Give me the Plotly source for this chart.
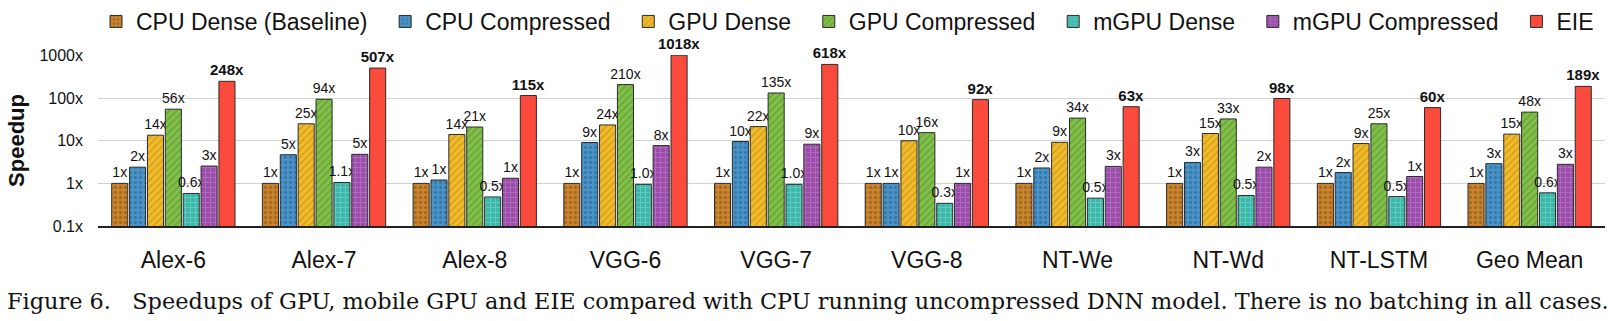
import plotly.graph_objects as go

categories = ["Alex-6", "Alex-7", "Alex-8", "VGG-6", "VGG-7", "VGG-8",
              "NT-We", "NT-Wd", "NT-LSTM", "Geo Mean"]

series_names = ["CPU Dense (Baseline)", "CPU Compressed", "GPU Dense",
                "GPU Compressed", "mGPU Dense", "mGPU Compressed", "EIE"]

cpu_dense = [1.0, 1.0, 1.0, 1.0, 1.0, 1.0, 1.0, 1.0, 1.0, 1.0]
cpu_comp = [2.4, 4.7, 1.2, 9.1, 9.6, 1.0, 2.3, 3.1, 1.8, 2.9]
gpu_dense = [13.5, 25, 14, 23.5, 21.5, 10, 9.2, 14.8, 8.6, 14.3]
gpu_comp = [55, 94, 21, 208, 132, 15.5, 34, 32.5, 25, 47]
mgpu_dense = [0.58, 1.05, 0.48, 0.95, 0.95, 0.34, 0.45, 0.52, 0.49, 0.6]
mgpu_comp = [2.55, 4.8, 1.32, 7.7, 8.3, 1.0, 2.5, 2.4, 1.45, 2.8]
eie = [248, 507, 115, 1018, 618, 92, 63, 98, 60, 189]

cpu_dense_lbl = ["1x", "1x", "1x", "1x", "1x", "1x", "1x", "1x", "1x", "1x"]
cpu_comp_lbl = ["2x", "5x", "1x", "9x", "10x", "1x", "2x", "3x", "2x", "3x"]
gpu_dense_lbl = ["14x", "25x", "14x", "24x", "22x", "10x", "9x", "15x", "9x", "15x"]
gpu_comp_lbl = ["56x", "94x", "21x", "210x", "135x", "16x", "34x", "33x", "25x", "48x"]
mgpu_dense_lbl = ["0.6x", "1.1x", "0.5x", "1.0x", "1.0x", "0.3x", "0.5x", "0.5x", "0.5x", "0.6x"]
mgpu_comp_lbl = ["3x", "5x", "1x", "8x", "9x", "1x", "3x", "2x", "1x", "3x"]
eie_lbl = ["248x", "507x", "115x", "1018x", "618x", "92x", "63x", "98x", "60x", "189x"]

y_tickvals = [0.1, 1, 10, 100, 1000]
y_ticktext = ["0.1x", "1x", "10x", "100x", "1000x"]

caption = ("Figure 6.&nbsp;&nbsp;&nbsp;Speedups of GPU, mobile GPU and EIE compared with CPU "
           "running uncompressed DNN model. There is no batching in all cases.")

values = [cpu_dense, cpu_comp, gpu_dense, gpu_comp, mgpu_dense, mgpu_comp, eie]
labels = [cpu_dense_lbl, cpu_comp_lbl, gpu_dense_lbl, gpu_comp_lbl,
          mgpu_dense_lbl, mgpu_comp_lbl, eie_lbl]

colors = ["#C8842F", "#4B93C6", "#F0BC2E", "#82BF4B", "#3DB7A9", "#9A4DA9", "#F94A3C"]
pattern_shapes = [".", ".", "/", "/", "+", "+", ""]
pattern_fg = ["#A0631C", "#2F74A8", "#D39A12", "#63A232", "#67CFC2", "#B572C4", "#F94A3C"]

SANS = "Liberation Sans, Arial, Helvetica, sans-serif"
W, H = 1614, 321
ML, MR, MT, MB = 98, 9, 55, 95
LEGEND_PAD = "\u00a0\u00a0"

fig = go.Figure()
for i, name in enumerate(series_names):
    is_eie = (i == 6)
    fig.add_trace(go.Bar(
        name=name + (LEGEND_PAD if not is_eie else ""),
        x=categories,
        y=values[i],
        text=labels[i],
        textposition="outside",
        constraintext="none",
        cliponaxis=False,
        textfont=dict(family=SANS, size=15 if is_eie else 14,
                      color="#111111", weight="bold" if is_eie else "normal"),
        marker=dict(
            color=colors[i],
            line=dict(color="#2b2b2b", width=1),
            pattern=dict(shape=pattern_shapes[i], fgcolor=pattern_fg[i],
                         size=5, solidity=0.35, fgopacity=0.8),
        ),
        hoverinfo="skip",
    ))

plot_h = H - MT - MB
cap_y_px = 301
cap_y = (H - MB - cap_y_px) / plot_h

fig.update_layout(
    width=W, height=H,
    margin=dict(l=ML, r=MR, t=MT, b=MB, pad=0, autoexpand=False),
    paper_bgcolor="white", plot_bgcolor="white",
    barmode="group", bargap=0.17, bargroupgap=0.1,
    font=dict(family=SANS, color="#111111"),
    legend=dict(orientation="h", xref="container", x=96 / W, xanchor="left",
                yref="container", y=1.0, yanchor="top",
                font=dict(family=SANS, size=23, color="#111111"),
                itemwidth=30, tracegroupgap=0, traceorder="normal",
                bgcolor="rgba(0,0,0,0)"),
    xaxis=dict(showgrid=False, showline=True, linecolor="#222222", linewidth=1.5,
               ticks="", tickfont=dict(family=SANS, size=23, color="#111111"),
               ticklabelstandoff=13, range=[-0.5, 9.5]),
    yaxis=dict(type="log", range=[-1, 3.012], tickvals=y_tickvals, ticktext=y_ticktext,
               showgrid=True, gridcolor="#d2d2d2", gridwidth=1, zeroline=False,
               showline=False, ticks="",
               tickfont=dict(family=SANS, size=16, color="#111111"),
               ticklabelstandoff=14,
               title=dict(text="<b>Speedup</b>", font=dict(family=SANS, size=22, color="#111111"),
                          standoff=8)),
    annotations=[dict(text=caption, xref="paper", yref="paper", x=(5 - ML) / (W - ML - MR),
                      xanchor="left", y=cap_y, yanchor="middle", showarrow=False,
                      font=dict(family="DejaVu Serif, Liberation Serif, serif", size=22.4,
                                color="#111111"))],
)

fig.write_html("out.html")
